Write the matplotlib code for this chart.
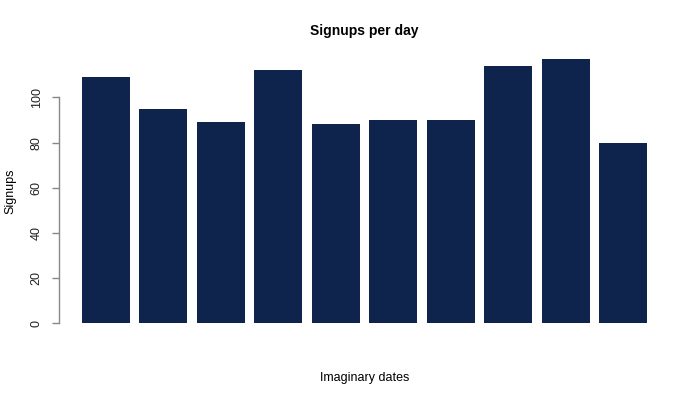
import numpy as np
import matplotlib
matplotlib.use('Agg')
import matplotlib.pyplot as plt

plt.rcParams['font.family'] = ['Liberation Sans', 'DejaVu Sans']

# signups per (imaginary) day
days = ['d1', 'd2', 'd3', 'd4', 'd5', 'd6', 'd7', 'd8', 'd9', 'd10']
signups = [109, 95, 89, 112, 88, 90, 90, 114, 117, 80]
yticks = [0, 20, 40, 60, 80, 100]

bar_color = '#0e244c'

fig = plt.figure(figsize=(7, 4), dpi=100)
W, H = 700, 400
left, right, bottom, top = 59.4, 669.6, 333.9, 48.4
ax = fig.add_axes([left / W, 1 - bottom / H, (right - left) / W, (bottom - top) / H])

# R style barplot: width 1, space 0.2
x = 0.7 + 1.2 * np.arange(len(signups))
ax.bar(x, signups, width=1.0, color=bar_color, edgecolor='none')

xr = (0.2, 0.2 + 1.2 * len(signups) - 0.2)
pad_x = 0.04 * (xr[1] - xr[0])
ax.set_xlim(xr[0] - pad_x, xr[1] + pad_x)
ymax = max(signups)
ax.set_ylim(-0.04 * ymax, ymax * 1.04)

for s in ['top', 'right', 'bottom']:
    ax.spines[s].set_visible(False)
ax.spines['left'].set_bounds(0, 100)
ax.spines['left'].set_color('#888888')
ax.spines['left'].set_linewidth(1)

ax.set_xticks([])
ax.set_yticks(yticks)
ax.set_yticklabels([str(v) for v in yticks], rotation=90, va='center', fontsize=9)
ax.tick_params(axis='y', length=5, width=1, color='#888888', pad=7, labelcolor='#222222')

ax.set_xlabel('Imaginary dates', fontsize=9, va='center')
ax.xaxis.set_label_coords(0.5, -(378 - bottom) / (bottom - top))
ax.set_ylabel('Signups', fontsize=9, va='center')
ax.yaxis.set_label_coords((10 - left) / (right - left), 0.5)

fig.text((left + right) / 2 / W, 1 - 31 / H, 'Signups per day',
         ha='center', va='center', fontsize=10, fontweight='bold')

plt.savefig('out.png', dpi=100)
